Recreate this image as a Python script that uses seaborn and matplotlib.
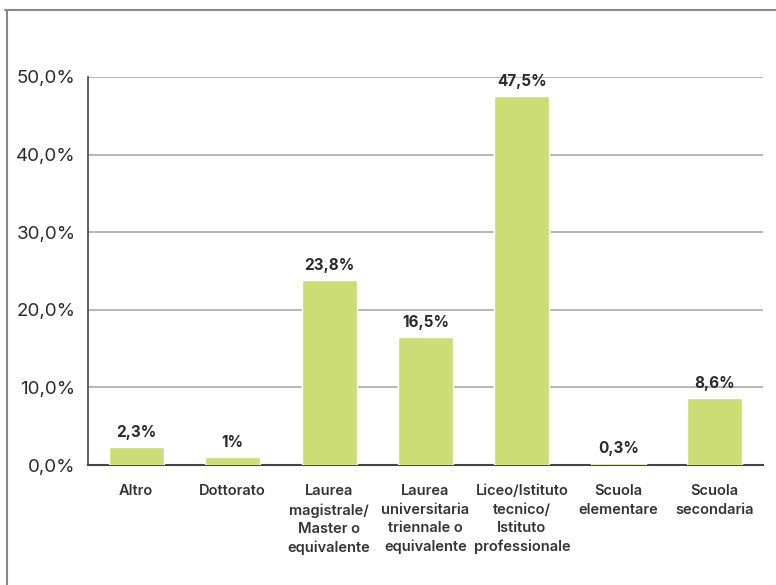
import matplotlib
matplotlib.use("Agg")
import matplotlib.pyplot as plt
from matplotlib.lines import Line2D
import seaborn as sns
import pandas as pd

categories = ["Altro", "Dottorato", "Laurea\nmagistrale/\nMaster o\nequivalente",
              "Laurea\nuniversitaria\ntriennale o\nequivalente",
              "Liceo/Istituto\ntecnico/\nIstituto\nprofessionale",
              "Scuola\nelementare", "Scuola\nsecondaria"]
values = [2.3, 1.0, 23.8, 16.5, 47.5, 0.3, 8.6]
value_labels = ["2,3%", "1%", "23,8%", "16,5%", "47,5%", "0,3%", "8,6%"]
y_ticks = [0, 10, 20, 30, 40, 50]
y_tick_labels = ["0,0%", "10,0%", "20,0%", "30,0%", "40,0%", "50,0%"]

sns.set_theme(style="white")
plt.rcParams["font.family"] = ["Inter", "DejaVu Sans"]

df = pd.DataFrame({"cat": categories, "val": values})

fig = plt.figure(figsize=(7.76, 5.85), dpi=100)
ax = fig.add_axes([0.1134, 0.2051, 0.8698, 0.6633])

sns.barplot(data=df, x="cat", y="val", color="#cbdd74", saturation=1,
            width=0.57, ax=ax, zorder=3)

ax.set_xlim(-0.5, 6.5)
ax.set_ylim(0, 50)
ax.set_yticks(y_ticks)
ax.set_yticklabels(y_tick_labels, fontsize=13.5, color="#2a2a2a")
ax.set_xticks(range(len(categories)))
ax.set_xticklabels(categories, fontsize=10.5, color="#333333", fontweight="semibold",
                   linespacing=1.4, va="top")
ax.tick_params(axis="x", length=0, pad=14)
ax.tick_params(axis="y", length=0, pad=9)
ax.set_xlabel("")
ax.set_ylabel("")

ax.yaxis.grid(True, color="#aaaaaa", linewidth=1.2)
ax.set_axisbelow(True)
for s in ["top", "right"]:
    ax.spines[s].set_visible(False)
ax.spines["left"].set_color("#444444")
ax.spines["left"].set_linewidth(1.2)
ax.spines["bottom"].set_color("#444444")
ax.spines["bottom"].set_linewidth(1.5)
ax.spines["bottom"].set_zorder(2)

for i, (v, lab) in enumerate(zip(values, value_labels)):
    ax.annotate(lab, (i, v), xytext=(0, 5), textcoords="offset points",
                ha="center", va="bottom", fontsize=11, fontweight="bold",
                color="#2a2a2a")

# outer frame (top and left)
fig.add_artist(Line2D([5 / 776, 1.0], [1 - 10 / 585, 1 - 10 / 585],
                      transform=fig.transFigure, color="#888888", linewidth=1.5))
fig.add_artist(Line2D([7 / 776, 7 / 776], [0, 1 - 10 / 585],
                      transform=fig.transFigure, color="#888888", linewidth=1.5))

fig.savefig("out.png", dpi=100)
